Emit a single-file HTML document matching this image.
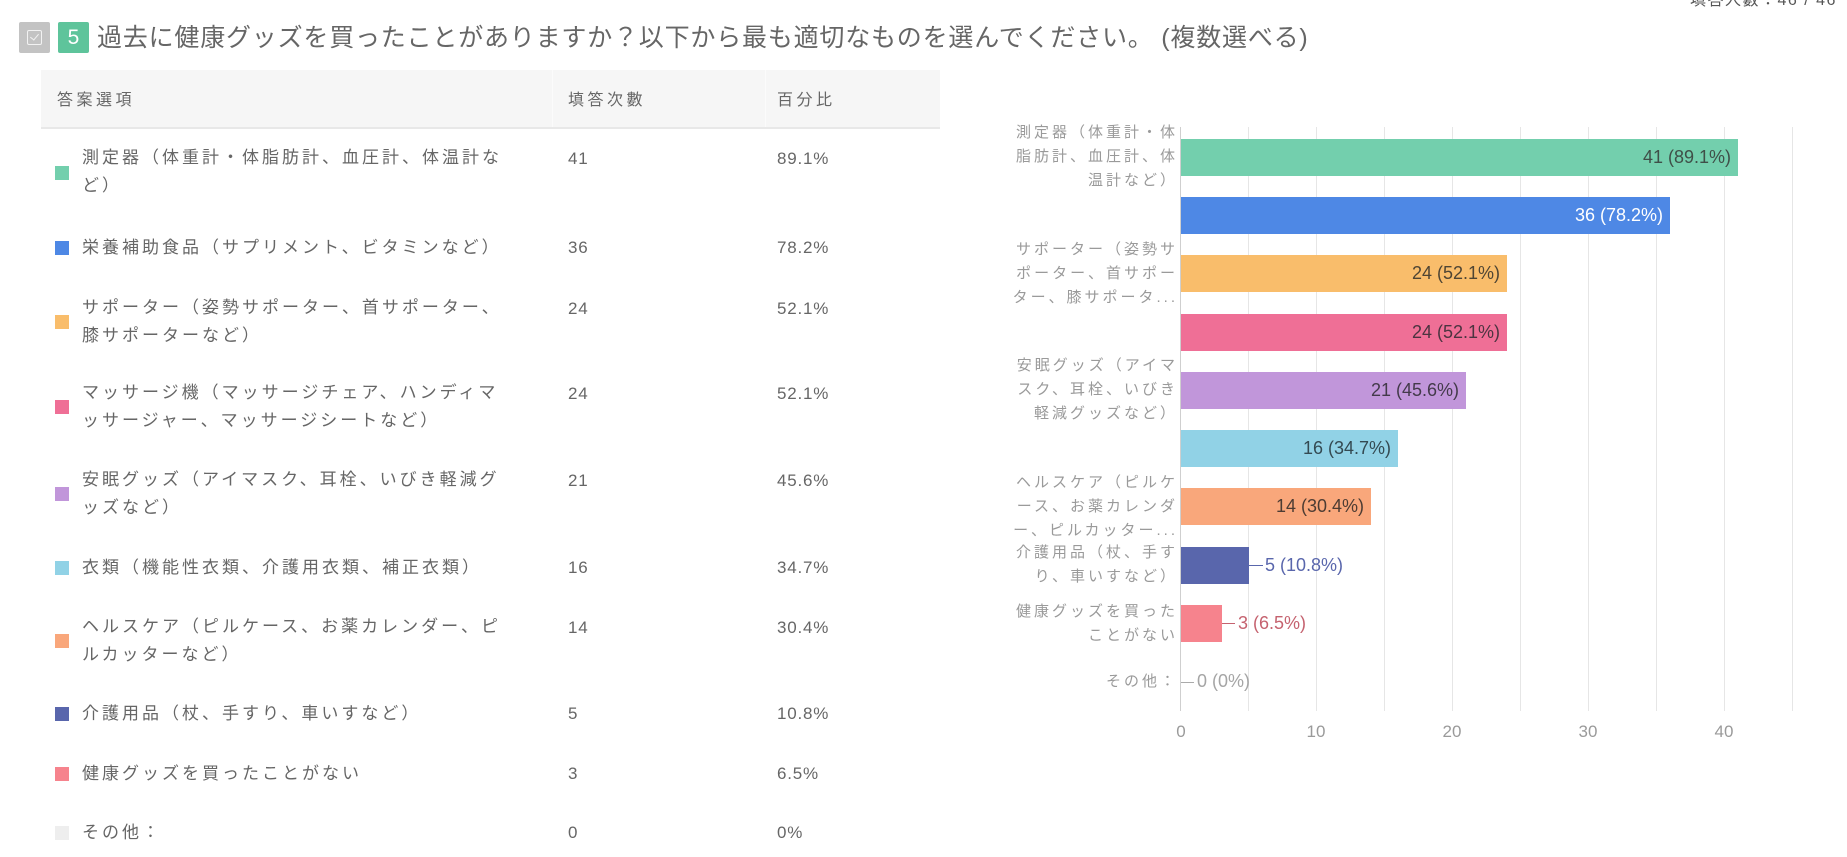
<!DOCTYPE html>
<html><head><meta charset="utf-8">
<style>
html,body{margin:0;padding:0;background:#fff;}
body{width:1847px;height:857px;position:relative;overflow:hidden;font-family:"Liberation Sans","Noto Sans CJK JP",sans-serif;}
.a{position:absolute;white-space:nowrap;}
.t{font-size:17px;letter-spacing:3px;color:#666;line-height:28px;height:28px;}
.n{font-size:17px;letter-spacing:0.8px;color:#666;line-height:28px;height:28px;}
.m{position:absolute;width:14px;height:14px;left:55px;}
.cl{position:absolute;left:880px;width:298px;text-align:right;font-size:15px;letter-spacing:3px;color:#9a9a9a;line-height:24px;white-space:nowrap;}
.bar{position:absolute;left:1181px;height:37px;}
.dl{position:absolute;font-size:18px;line-height:37px;height:37px;white-space:nowrap;}
.g{position:absolute;top:127px;height:584px;width:1px;background:#e6e6e6;}
.tk{position:absolute;top:720px;font-size:17px;color:#9a9a9a;width:40px;text-align:center;line-height:24px;}
</style></head><body>

<!-- top right -->
<div class="a" style="left:1690px;top:-7px;font-size:16px;letter-spacing:1.5px;color:#555;line-height:16px;">填答人數：46 / 46</div>

<!-- title -->
<div class="a" style="left:19px;top:22px;width:31px;height:31px;background:#c3c3c3;border-radius:2px;"></div>
<div class="a" style="left:27px;top:30px;width:13px;height:13px;border:1.5px solid #f2f2f2;border-radius:2px;"></div>
<div class="a" style="left:30px;top:33px;width:4px;height:7px;border-right:1.5px solid #f2f2f2;border-bottom:1.5px solid #f2f2f2;transform:rotate(40deg);transform-origin:center;left:32px;top:32px;"></div>
<div class="a" style="left:58px;top:22px;width:31px;height:31px;background:#5ec49b;border-radius:2px;color:#fff;font-size:21px;line-height:31px;text-align:center;">5</div>
<div class="a" style="left:97px;top:22px;font-size:25px;letter-spacing:0.8px;color:#666;line-height:32px;">過去に健康グッズを買ったことがありますか？以下から最も適切なものを選んでください。 (複数選べる)</div>

<!-- table header -->
<div class="a" style="left:41px;top:70px;width:899px;height:57px;background:#f6f6f6;border-bottom:2px solid #e8e8e8;"></div>
<div class="a" style="left:552px;top:70px;width:1px;height:57px;background:#fbfbfb;"></div>
<div class="a" style="left:765px;top:70px;width:1px;height:57px;background:#fbfbfb;"></div>
<div class="a t" style="left:57px;top:87px;font-size:16px;letter-spacing:3.5px;">答案選項</div>
<div class="a t" style="left:568px;top:87px;font-size:16px;letter-spacing:3.5px;">填答次數</div>
<div class="a t" style="left:777px;top:87px;font-size:16px;letter-spacing:3.5px;">百分比</div>

<!-- table rows -->
<div class="m" style="top:166px;background:#73cfad;"></div>
<div class="a t" style="left:82px;top:144px;">測定器（体重計・体脂肪計、血圧計、体温計な</div>
<div class="a t" style="left:82px;top:172px;">ど）</div>
<div class="a n" style="left:568px;top:145px;">41</div>
<div class="a n" style="left:777px;top:145px;">89.1%</div>

<div class="m" style="top:241px;background:#4e88e5;"></div>
<div class="a t" style="left:82px;top:234px;">栄養補助食品（サプリメント、ビタミンなど）</div>
<div class="a n" style="left:568px;top:234px;">36</div>
<div class="a n" style="left:777px;top:234px;">78.2%</div>

<div class="m" style="top:315px;background:#f9bd6b;"></div>
<div class="a t" style="left:82px;top:294px;">サポーター（姿勢サポーター、首サポーター、</div>
<div class="a t" style="left:82px;top:322px;">膝サポーターなど）</div>
<div class="a n" style="left:568px;top:295px;">24</div>
<div class="a n" style="left:777px;top:295px;">52.1%</div>

<div class="m" style="top:400px;background:#ef6f96;"></div>
<div class="a t" style="left:82px;top:379px;">マッサージ機（マッサージチェア、ハンディマ</div>
<div class="a t" style="left:82px;top:407px;">ッサージャー、マッサージシートなど）</div>
<div class="a n" style="left:568px;top:380px;">24</div>
<div class="a n" style="left:777px;top:380px;">52.1%</div>

<div class="m" style="top:487px;background:#c196da;"></div>
<div class="a t" style="left:82px;top:466px;">安眠グッズ（アイマスク、耳栓、いびき軽減グ</div>
<div class="a t" style="left:82px;top:494px;">ッズなど）</div>
<div class="a n" style="left:568px;top:467px;">21</div>
<div class="a n" style="left:777px;top:467px;">45.6%</div>

<div class="m" style="top:561px;background:#91d2e6;"></div>
<div class="a t" style="left:82px;top:554px;">衣類（機能性衣類、介護用衣類、補正衣類）</div>
<div class="a n" style="left:568px;top:554px;">16</div>
<div class="a n" style="left:777px;top:554px;">34.7%</div>

<div class="m" style="top:634px;background:#f9a77b;"></div>
<div class="a t" style="left:82px;top:613px;">ヘルスケア（ピルケース、お薬カレンダー、ピ</div>
<div class="a t" style="left:82px;top:641px;">ルカッターなど）</div>
<div class="a n" style="left:568px;top:614px;">14</div>
<div class="a n" style="left:777px;top:614px;">30.4%</div>

<div class="m" style="top:707px;background:#5966ac;"></div>
<div class="a t" style="left:82px;top:700px;">介護用品（杖、手すり、車いすなど）</div>
<div class="a n" style="left:568px;top:700px;">5</div>
<div class="a n" style="left:777px;top:700px;">10.8%</div>

<div class="m" style="top:767px;background:#f6838d;"></div>
<div class="a t" style="left:82px;top:760px;">健康グッズを買ったことがない</div>
<div class="a n" style="left:568px;top:760px;">3</div>
<div class="a n" style="left:777px;top:760px;">6.5%</div>

<div class="m" style="top:826px;background:#eeeeee;"></div>
<div class="a t" style="left:82px;top:819px;">その他：</div>
<div class="a n" style="left:568px;top:819px;">0</div>
<div class="a n" style="left:777px;top:819px;">0%</div>

<!-- chart gridlines -->
<div class="g" style="left:1248px;"></div>
<div class="g" style="left:1316px;"></div>
<div class="g" style="left:1384px;"></div>
<div class="g" style="left:1452px;"></div>
<div class="g" style="left:1520px;"></div>
<div class="g" style="left:1588px;"></div>
<div class="g" style="left:1656px;"></div>
<div class="g" style="left:1724px;"></div>
<div class="g" style="left:1792px;"></div>
<div class="g" style="left:1180px;background:#cfcfcf;"></div>

<!-- bars -->
<div class="bar" style="top:139px;width:557px;background:#73cfad;"></div>
<div class="bar" style="top:197px;width:489px;background:#4e88e5;"></div>
<div class="bar" style="top:255px;width:326px;background:#f9bd6b;"></div>
<div class="bar" style="top:314px;width:326px;background:#ef6f96;"></div>
<div class="bar" style="top:372px;width:285px;background:#c196da;"></div>
<div class="bar" style="top:430px;width:217px;background:#91d2e6;"></div>
<div class="bar" style="top:488px;width:190px;background:#f9a77b;"></div>
<div class="bar" style="top:547px;width:68px;background:#5966ac;"></div>
<div class="bar" style="top:605px;width:41px;background:#f6838d;"></div>

<!-- data labels -->
<div class="dl" style="right:116px;top:139px;color:#3f4f48;">41 (89.1%)</div>
<div class="dl" style="right:184px;top:197px;color:#ffffff;">36 (78.2%)</div>
<div class="dl" style="right:347px;top:255px;color:#4f4534;">24 (52.1%)</div>
<div class="dl" style="right:347px;top:314px;color:#4c3440;">24 (52.1%)</div>
<div class="dl" style="right:388px;top:372px;color:#433a4a;">21 (45.6%)</div>
<div class="dl" style="right:456px;top:430px;color:#344a52;">16 (34.7%)</div>
<div class="dl" style="right:483px;top:488px;color:#4d3c33;">14 (30.4%)</div>

<div class="a" style="left:1249px;top:565px;width:14px;height:1px;background:#5966ac;"></div>
<div class="dl" style="left:1265px;top:547px;color:#5966ac;">5 (10.8%)</div>
<div class="a" style="left:1222px;top:623px;width:13px;height:1px;background:#c5626f;"></div>
<div class="dl" style="left:1238px;top:605px;color:#c5626f;">3 (6.5%)</div>
<div class="a" style="left:1181px;top:682px;width:13px;height:1px;background:#aaaaaa;"></div>
<div class="dl" style="left:1197px;top:663px;color:#a5a5a5;">0 (0%)</div>

<!-- category labels -->
<div class="cl" style="top:121px;">測定器（体重計・体<br>脂肪計、血圧計、体<br>温計など）</div>
<div class="cl" style="top:238px;">サポーター（姿勢サ<br>ポーター、首サポー<br>ター、膝サポータ...</div>
<div class="cl" style="top:354px;">安眠グッズ（アイマ<br>スク、耳栓、いびき<br>軽減グッズなど）</div>
<div class="cl" style="top:471px;">ヘルスケア（ピルケ<br>ース、お薬カレンダ<br>ー、ピルカッター...</div>
<div class="cl" style="top:541px;">介護用品（杖、手す<br>り、車いすなど）</div>
<div class="cl" style="top:600px;">健康グッズを買った<br>ことがない</div>
<div class="cl" style="top:670px;">その他：</div>

<!-- ticks -->
<div class="tk" style="left:1161px;">0</div>
<div class="tk" style="left:1296px;">10</div>
<div class="tk" style="left:1432px;">20</div>
<div class="tk" style="left:1568px;">30</div>
<div class="tk" style="left:1704px;">40</div>

</body></html>
